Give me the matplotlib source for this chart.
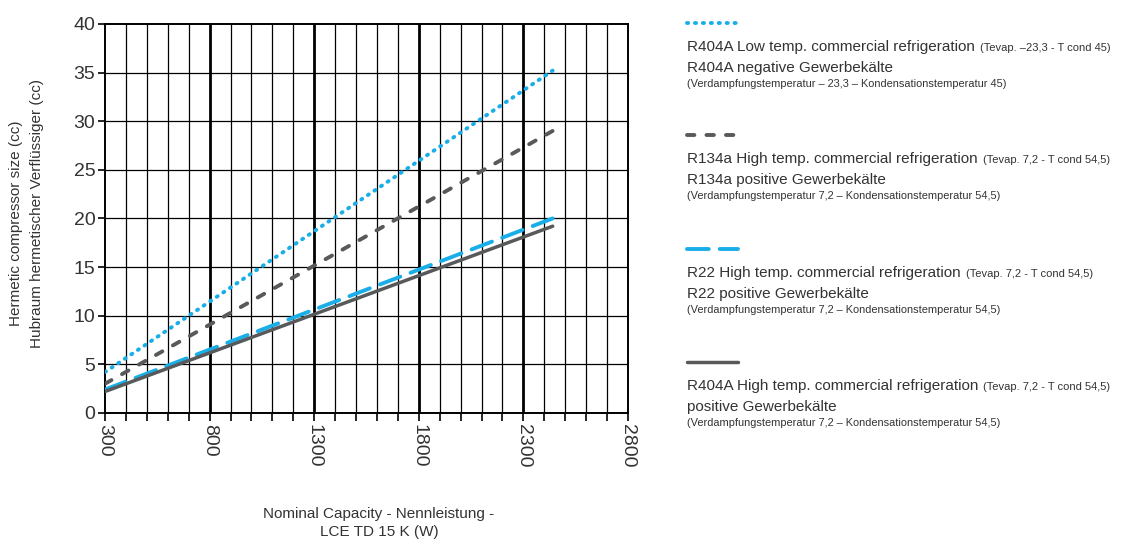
import matplotlib.pyplot as plt
from matplotlib.lines import Line2D

plt.rcParams['font.family'] = ['Liberation Sans', 'DejaVu Sans']
plt.rcParams['text.color'] = '#333333'

BLUE = '#1aaee8'
GREY = '#58595b'

# capacity (W) at both ends of each curve
capacity = [300, 2440]
r404a_low = [4.2, 35.2]
r134a_high = [3.0, 29.0]
r22_high = [2.4, 20.0]
r404a_high = [2.2, 19.2]

series = [
    ('R404A Low temp. commercial refrigeration', '(Tevap. \u201323,3 - T cond 45)',
     'R404A negative Gewerbek\u00e4lte',
     '(Verdampfungstemperatur \u2013 23,3 \u2013 Kondensationstemperatur 45)',
     r404a_low, dict(color=BLUE, lw=2.8, dashes=(0.3, 1.737), dash_capstyle='round')),
    ('R134a High temp. commercial refrigeration', '(Tevap. 7,2 - T cond 54,5)',
     'R134a positive Gewerbek\u00e4lte',
     '(Verdampfungstemperatur 7,2 \u2013 Kondensationstemperatur 54,5)',
     r134a_high, dict(color=GREY, lw=2.8, dashes=(1.9, 3.11), dash_capstyle='round')),
    ('R22 High temp. commercial refrigeration', '(Tevap. 7,2 - T cond 54,5)',
     'R22 positive Gewerbek\u00e4lte',
     '(Verdampfungstemperatur 7,2 \u2013 Kondensationstemperatur 54,5)',
     r22_high, dict(color=BLUE, lw=2.8, dashes=(5.6, 2.81), dash_capstyle='round')),
    ('R404A High temp. commercial refrigeration', '(Tevap. 7,2 - T cond 54,5)',
     'positive Gewerbek\u00e4lte',
     '(Verdampfungstemperatur 7,2 \u2013 Kondensationstemperatur 54,5)',
     r404a_high, dict(color=GREY, lw=2.5, solid_capstyle='round')),
]

W, H = 1121, 544
fig = plt.figure(figsize=(W / 100, H / 100), dpi=100)
ax = fig.add_axes([0.0937, 0.241, 0.4665, 0.715])

ax.set_xlim(300, 2800)
ax.set_ylim(0, 40)

# grid: thin every 100 W, heavy every 500 W, horizontal every 5 cc
for xv in range(400, 2800, 100):
    heavy = (xv - 300) % 500 == 0
    ax.axvline(xv, color='black', lw=2.0 if heavy else 0.9, zorder=1)
for yv in range(5, 40, 5):
    ax.axhline(yv, color='black', lw=0.9, zorder=1)
for sp in ax.spines.values():
    sp.set_linewidth(1.4)
    sp.set_color('black')

for _, _, _, _, vals, style in series:
    ax.plot(capacity, vals, zorder=3, **style)

ax.set_xticks(range(300, 2801, 500))
ax.set_xticks(range(300, 2801, 100), minor=True)
ax.set_yticks(range(0, 41, 5))
ax.tick_params(axis='x', which='both', direction='out', length=6, width=1.2,
               labelsize=14, labelrotation=270, pad=2, colors='black', labelcolor='#333333')
ax.tick_params(axis='y', direction='out', length=5, width=1.2, labelsize=14,
               pad=2, colors='black', labelcolor='#333333')
for lab in ax.get_xticklabels():
    lab.set_va('top')
    lab.set_ha('center')

fig.text(16 / W, 1 - 223 / H, 'Hermetic compressor size (cc)', rotation=90,
         ha='center', va='center', fontsize=11)
fig.text(37 / W, 1 - 213 / H, 'Hubraum hermetischer Verfl\u00fcssiger (cc)', rotation=90,
         ha='center', va='center', fontsize=11)
fig.text(379 / W, 1 - 523 / H, 'Nominal Capacity - Nennleistung -\nLCE TD 15 K (W)',
         ha='center', va='center', fontsize=11, linespacing=1.4)

# key on the right
x0, x1 = 687 / W, 738 / W
sample_y = [23, 135, 249, 362]
renderer = fig.canvas.get_renderer()
for (main, small, de, note, _, style), py in zip(series, sample_y):
    yf = 1 - py / H
    fig.add_artist(Line2D([x0, x1], [yf, yf], transform=fig.transFigure, **style))
    base = 1 - (py + 28) / H
    t1 = fig.text(x0, base, main, fontsize=11, va='baseline', ha='left')
    fig.text(x0, 1 - (py + 49) / H, de, fontsize=11, va='baseline', ha='left')
    fig.text(x0, 1 - (py + 64) / H, note, fontsize=7.9, va='baseline', ha='left')
    bb = t1.get_window_extent(renderer=renderer)
    fig.text((bb.x1 + 5) / W, base, small, fontsize=8, va='baseline', ha='left')

fig.savefig('out.png', dpi=100)
